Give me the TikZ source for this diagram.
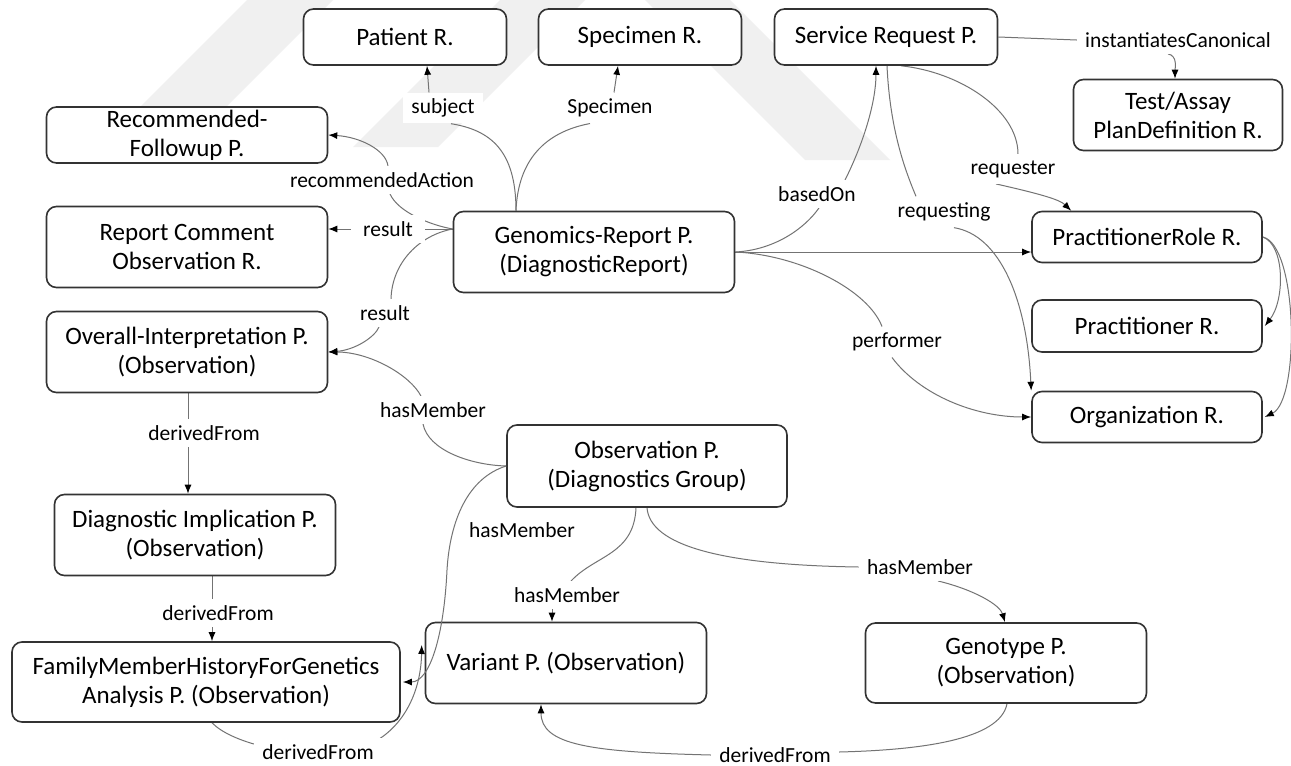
\documentclass[tikz,border=0pt]{standalone}
\usepackage{fontspec}
\setmainfont{Carlito}
\usetikzlibrary{calc,arrows.meta}
\pgfdeclarelayer{wm}
\pgfdeclarelayer{bg}
\pgfsetlayers{wm,bg,main}

\begin{document}
\begin{tikzpicture}[x=0.5pt,y=-0.5pt,
  box/.style={draw=black!80, line width=0.8pt, rounded corners=5pt, fill=white,
    align=center, inner sep=0pt, font=\fontsize{12.5}{14.5}\selectfont},
  lbl/.style={fill=white, inner xsep=4pt, inner ysep=3pt,
    font=\fontsize{10.75}{12}\selectfont},
  link/.style={draw=black!55, line width=0.5pt},
  arr/.style={link, -{Latex[length=4.5pt,width=3.5pt,color=black]}},
  wmark/.style={fill=black!6, draw=none},
]
\useasboundingbox (0,0) rectangle (1291,766);

% page background and faint logo
\begin{pgfonlayer}{wm}
  \fill[white] (0,0) rectangle (1291,766);
  \fill[wmark] (247,0) -- (333,0) -- (226,107) -- (140,107) -- cycle;
  \fill[wmark] (500,0) -- (585,0) -- (438,147) -- (353,147) -- cycle;
  \fill[wmark] (645,0) -- (730,0) -- (890,160) -- (805,160) -- cycle;
\end{pgfonlayer}

% resources and profiles
\node[box, minimum width=101.5pt, minimum height=28pt] (pat)  at (405,37)  {Patient R.};
\node[box, minimum width=101.5pt, minimum height=28pt] (spec) at (640,37)  {Specimen R.};
\node[box, minimum width=111.5pt, minimum height=28pt] (sr)   at (886,37)  {Service Request P.};
\node[box, minimum width=104.5pt, minimum height=35.5pt] (test) at (1178,115) {Test/Assay\\PlanDefinition R.};
\node[box, minimum width=140.5pt, minimum height=28pt] (rec)  at (187,135) {Recommended-\\Followup P.};
\node[box, minimum width=140.5pt, minimum height=40.5pt] (rco) at (187,247) {Report Comment\\Observation R.};
\node[box, minimum width=140.5pt, minimum height=40.5pt] (gen) at (594,252) {Genomics-Report P.\\(DiagnosticReport)};
\node[box, minimum width=140.5pt, minimum height=40.5pt] (oip) at (187,352) {Overall-Interpretation P.\\(Observation)};
\node[box, minimum width=140.5pt, minimum height=40.5pt] (dip) at (195,535) {Diagnostic Implication P.\\(Observation)};
\node[box, minimum width=194pt, minimum height=40pt] (fam) at (206,682) {FamilyMemberHistoryForGenetics\\Analysis P. (Observation)};
\node[box, minimum width=140.5pt, minimum height=40.5pt] (var) at (566,663) {Variant P. (Observation)};
\node[box, minimum width=140.5pt, minimum height=40pt] (geno) at (1006,663) {Genotype P.\\(Observation)};
\node[box, minimum width=140pt, minimum height=41pt] (obs) at (647,466) {Observation P.\\(Diagnostics Group)};
\node[box, minimum width=115pt, minimum height=25.5pt] (prr) at (1147,237) {PractitionerRole R.};
\node[box, minimum width=115pt, minimum height=26pt] (pra) at (1147,326) {Practitioner R.};
\node[box, minimum width=115pt, minimum height=25.5pt] (org) at (1147,417) {Organization R.};

% relation labels
\node[lbl] (lsub)  at (443,108) {subject};
\node[lbl] (lspec) at (610,108) {Specimen};
\node[lbl] (lrec)  at (382,180) {recommendedAction};
\node[lbl, minimum width=37pt] (lres1) at (388,229) {result};
\node[lbl] (lres2) at (385,313) {result};
\node[lbl] (lhm1)  at (433,410) {hasMember};
\node[lbl] (lhm2)  at (522,530) {hasMember};
\node[lbl] (ldf1)  at (204,433) {derivedFrom};
\node[lbl] (ldf2)  at (218,613) {derivedFrom};
\node[lbl] (ldf3)  at (318,752) {derivedFrom};
\node[lbl] (lhm3)  at (567,595) {hasMember};
\node[lbl] (lhm4)  at (920,567) {hasMember};
\node[lbl] (ldf4)  at (775,755) {derivedFrom};
\node[lbl] (linst) at (1178,40) {instantiatesCanonical};
\node[lbl] (lbo)   at (817,194) {basedOn};
\node[lbl] (lreq)  at (944,212) {requesting};
\node[lbl] (lrq)   at (1013,169) {requester};
\node[lbl] (lper)  at (897,342) {performer};

\coordinate (gtop) at ($(gen.north)+(-78,0)$);
\coordinate (genL) at ($(gen.west)+(0,-23)$);

\begin{pgfonlayer}{bg}
  % subject / specimen
  \draw[link] (gtop) .. controls (516,150) and (490,130) .. ($(lsub.south)+(8,0)$);
  \draw[arr] ($(lsub.north)+(-14,0)$) -- ($(pat.south)+(22,0)$);
  \draw[link] (gtop) .. controls (518,160) and (545,132) .. ($(lspec.south)+(-20,0)$);
  \draw[arr] ($(lspec.north)+(4,0)$) -- ($(spec.south)+(-22,0)$);
  % recommendedAction
  \draw[link] (genL) .. controls (430,225) and (398,212) .. ($(lrec.south)+(8,0)$);
  \draw[arr] ($(lrec.north)+(6,0)$) .. controls (386,150) and (360,137) .. (rec.east);
  % result
  \draw[link] (genL) -- (lres1.east);
  \draw[arr] (lres1.west) -- ($(rco.east)+(0,-18)$);
  \draw[link] (genL) .. controls (420,235) and (392,262) .. ($(lres2.north)+(6,0)$);
  \draw[arr] ($(lres2.south)+(-6,0)$) .. controls (375,337) and (355,350) .. (oip.east);
  % hasMember from the group observation
  \draw[link] (obs.west) .. controls (470,465) and (428,450) .. ($(lhm1.south)+(-10,0)$);
  \draw[arr] ($(lhm1.north)+(-12,0)$) .. controls (410,375) and (370,352) .. (oip.east);
  \draw[link] ($(obs.south)+(-11,0)$) .. controls (634,555) and (595,555) .. ($(lhm3.north)+(4,0)$);
  \draw[arr] ($(lhm3.south)+(-15,0)$) -- ($(var.north)+(-14,0)$);
  \draw[link] (obs.south) .. controls (650,545) and (720,565) .. (lhm4.west);
  \draw[arr] ($(lhm4.south)+(18,0)$) .. controls (975,590) and (1000,605) .. ($(geno.north)+(-1,0)$);
  % derivedFrom chain
  \draw[arr] ($(oip.south)+(1,0)$) -- ($(dip.north)+(-7,0)$);
  \draw[arr] ($(dip.south)+(17,0)$) -- ($(fam.north)+(6,0)$);
  \draw[link] ($(fam.south)+(6,0)$) .. controls (222,733) and (240,740) .. ($(ldf3.west)+(0,-8)$);
  \draw[arr] ($(ldf3.east)+(-8,-10)$) .. controls (405,725) and (421,690) .. ($(var.west)+(-3,-18)$);
  \draw[link] ($(geno.south)+(1,0)$) .. controls (1000,740) and (920,750) .. ($(ldf4.east)+(0,-3)$);
  \draw[arr] (ldf4.west) .. controls (590,752) and (541,745) .. ($(var.south)+(-25,0)$);
  % service request
  \draw[link] (sr.east) -- (linst.west);
  \draw[arr] ($(linst.south)+(-10,0)$) to[out=-10,in=90] ($(test.north)+(-3,0)$);
  \draw[link] (gen.east) .. controls (775,250) and (805,228) .. ($(lbo.south)+(2,0)$);
  \draw[arr] ($(lbo.north)+(28,0)$) .. controls (865,140) and (876,100) .. ($(sr.south)+(-10,0)$);
  \draw[link] ($(sr.south)+(1,0)$) .. controls (890,130) and (905,170) .. ($(lreq.north)+(-28,0)$);
  \draw[arr] ($(lreq.south)+(10,0)$) .. controls (1000,235) and (1027,300) .. (org.north west);
  \draw[link] ($(sr.south)+(15,0)$) .. controls (960,72) and (1018,110) .. ($(lrq.north)+(5,0)$);
  \draw[arr] ($(lrq.south)+(-17,0)$) .. controls (1045,195) and (1060,200) .. ($(prr.north west)+(40,0)$);
  % practitioner role and performer
  \draw[arr] (gen.east) -- ($(prr.west)+(0,15)$);
  \draw[link] (gen.east) .. controls (800,255) and (868,290) .. ($(lper.north)+(-15,0)$);
  \draw[arr] ($(lper.south)+(-5,0)$) .. controls (920,395) and (975,417) .. (org.west);
  \draw[arr] (prr.east) .. controls (1285,245) and (1285,300) .. ($(pra.east)+(2,0)$);
  \draw[arr] (prr.east) .. controls (1298,245) and (1300,400) .. ($(org.east)+(2,0)$);
\end{pgfonlayer}

% this one runs along the left border of the variant box
\draw[arr] (obs.west) .. controls (468,478) and (450,520) .. (447,570)
           .. controls (444,635) and (430,682) .. ($(fam.east)+(2,0)$);
\end{tikzpicture}
\end{document}
